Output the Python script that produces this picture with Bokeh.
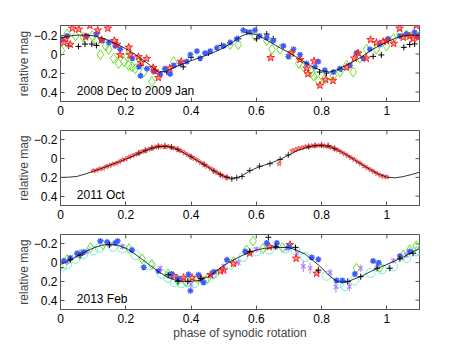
import numpy as np
from bokeh.plotting import figure
from bokeh.layouts import column
from bokeh.models import Range1d, FixedTicker, Label
from bokeh.embed import file_html
from bokeh.resources import INLINE

FONT = "Liberation Sans"
X_RANGE = (0, 1.1)
Y_RANGE = (0.5, -0.3)
X_TICKS = [0, 0.2, 0.4, 0.6, 0.8, 1.0]
X_TICK_LABELS = ["0", "0.2", "0.4", "0.6", "0.8", "1"]
Y_TICKS = [-0.2, 0, 0.2, 0.4]
Y_TICK_LABELS = ["\u22120.2", "0", "0.2", "0.4"]
PANEL_TITLES = ["2008 Dec to 2009 Jan", "2011 Oct", "2013 Feb"]
Y_LABEL = "relative mag"
X_LABEL = "phase of synodic rotation"

# model curve phase grid
curve_x = [0.000, 0.025, 0.050, 0.075, 0.100, 0.125, 0.150, 0.175, 0.200, 0.225,
           0.250, 0.275, 0.300, 0.325, 0.350, 0.375, 0.400, 0.425, 0.450, 0.475,
           0.500, 0.525, 0.550, 0.575, 0.600, 0.625, 0.650, 0.675, 0.700, 0.725,
           0.750, 0.775, 0.800, 0.825, 0.850, 0.875, 0.900, 0.925, 0.950, 0.975,
           1.000, 1.025, 1.050, 1.075, 1.100]

# ---------------- Panel 1: 2008 Dec to 2009 Jan ----------------
p1_curve = [-0.170, -0.188, -0.198, -0.200, -0.192, -0.170, -0.140, -0.100, -0.055, -0.005,
            0.055, 0.120, 0.190, 0.180, 0.140, 0.105, 0.070, 0.040, 0.010, -0.025,
            -0.065, -0.120, -0.180, -0.220, -0.205, -0.160, -0.110, -0.060, -0.015, 0.035,
            0.090, 0.140, 0.175, 0.190, 0.165, 0.120, 0.075, 0.025, -0.035, -0.085,
            -0.125, -0.165, -0.190, -0.200, -0.195]
p1_red_x = [0.010, 0.016, 0.030, 0.036, 0.056, 0.077, 0.090, 0.114, 0.126, 0.145, 0.165, 0.173,
            0.183, 0.209, 0.213, 0.239, 0.247, 0.264, 0.284, 0.290, 0.300, 0.335, 0.370,
            0.644, 0.708, 0.734, 0.754, 0.758, 0.777, 0.795, 0.812, 0.835, 0.877, 0.900,
            0.912, 0.937, 0.950, 0.968, 0.989, 0.999, 1.021, 1.039, 1.050, 1.070, 1.080,
            1.090, 1.096]
p1_red_y = [-0.12, -0.16, -0.10, -0.27, -0.26, -0.18, -0.30, -0.25, -0.15, -0.27, -0.14, -0.10,
            0.01, -0.07, 0.01, 0.03, 0.09, 0.05, 0.145, 0.18, 0.25, 0.15, 0.08,
            0.04, -0.01, 0.06, 0.15, 0.21, 0.075, 0.33, 0.27, 0.28, 0.14, 0.045,
            -0.01, 0.045, -0.15, -0.12, -0.13, -0.14, -0.11, -0.27, -0.175, -0.19, -0.16,
            -0.30, -0.175]
p1_blue_x = [0.000, 0.020, 0.080, 0.110, 0.127, 0.148, 0.168, 0.183, 0.220, 0.240, 0.245, 0.265,
             0.285, 0.306, 0.320, 0.336, 0.347, 0.367, 0.387, 0.398, 0.418, 0.428, 0.443,
             0.459, 0.479, 0.500, 0.520, 0.540, 0.560, 0.580, 0.596, 0.610, 0.632, 0.652,
             0.683, 0.698, 0.714, 0.734, 0.754, 0.780, 0.790, 0.810, 0.836, 0.856, 0.887,
             0.907, 0.928, 0.948, 0.979, 1.004, 1.040, 1.060, 1.085, 1.096]
p1_blue_y = [-0.16, -0.19, -0.19, -0.21, -0.14, -0.12, -0.085, -0.05, 0.045, 0.135, 0.23, 0.155,
             0.18, 0.21, 0.155, 0.21, 0.12, 0.10, 0.08, 0.007, -0.03, 0.045, -0.01,
             -0.03, -0.065, -0.085, -0.12, -0.16, -0.25, -0.23, -0.25, -0.19, -0.175, -0.14,
             -0.085, 0.025, -0.05, 0.007, 0.10, 0.135, 0.08, 0.17, 0.19, 0.155, 0.12,
             -0.01, 0.045, -0.05, -0.10, -0.16, -0.19, -0.21, -0.23, -0.19]
p1_green_x = [0.003, 0.020, 0.046, 0.070, 0.097, 0.112, 0.122, 0.138, 0.148, 0.163, 0.178, 0.194,
              0.204, 0.209, 0.219, 0.229, 0.245, 0.255, 0.280, 0.347,
              0.520, 0.545, 0.596, 0.632, 0.648, 0.673, 0.704, 0.730, 0.744, 0.770, 0.775,
              0.790, 0.810, 0.836, 0.856, 0.877, 0.897, 0.917, 0.938, 0.968, 0.999, 1.020,
              1.040, 1.060, 1.080, 1.100]
p1_green_y = [-0.035, -0.21, -0.19, -0.175, -0.19, -0.14, 0.007, -0.085, -0.05, 0.045, 0.10, 0.08,
              0.025, 0.12, 0.135, 0.155, 0.10, 0.19, 0.29, 0.08,
              -0.10, -0.10, -0.19, -0.14, -0.05, -0.05, 0.007, 0.10, 0.135, 0.19, 0.23,
              0.28, 0.26, 0.23, 0.19, 0.12, 0.19, 0.045, -0.05, -0.05, -0.085, -0.16,
              -0.21, -0.20, -0.19, -0.19]
p1_black_x = [0.025, 0.055, 0.075, 0.096, 0.110, 0.245, 0.290, 0.326, 0.376, 0.400, 0.453, 0.493,
              0.545, 0.571, 0.601, 0.632, 0.652, 0.794, 0.815, 0.860, 0.958, 0.983, 1.052,
              1.070, 1.085]
p1_black_y = [-0.085, -0.08, -0.105, -0.105, -0.09, 0.12, 0.18, 0.19, 0.135, 0.035, -0.01, -0.09,
              -0.16, -0.23, -0.16, -0.21, -0.16, 0.19, 0.20, 0.16, 0.025, 0.01, -0.07,
              -0.10, -0.106]

# ---------------- Panel 2: 2011 Oct ----------------
p2_curve = [0.200, 0.198, 0.190, 0.165, 0.135, 0.105, 0.072, 0.040, 0.005, -0.033,
            -0.070, -0.105, -0.128, -0.132, -0.110, -0.068, -0.020, 0.032, 0.085, 0.140,
            0.188, 0.210, 0.195, 0.140, 0.100, 0.070, 0.040, 0.005, -0.040, -0.085,
            -0.115, -0.135, -0.140, -0.128, -0.092, -0.045, 0.010, 0.065, 0.118, 0.165,
            0.198, 0.205, 0.192, 0.170, 0.145]
p2_red_x = [0.10, 0.11, 0.12, 0.13, 0.14, 0.15, 0.16, 0.17, 0.18, 0.19, 0.20, 0.21, 0.22, 0.23,
            0.24, 0.25, 0.26, 0.27, 0.28, 0.29, 0.30, 0.31, 0.32, 0.33, 0.34, 0.35, 0.36, 0.37,
            0.38, 0.39, 0.40, 0.41, 0.42, 0.43, 0.44, 0.45, 0.46, 0.47, 0.48, 0.49, 0.50, 0.51,
            0.67,
            0.71, 0.72, 0.73, 0.74, 0.75, 0.76, 0.77, 0.78, 0.79, 0.80, 0.81, 0.82, 0.83, 0.84,
            0.85, 0.86, 0.87, 0.88, 0.89, 0.90, 0.91, 0.92, 0.93, 0.94, 0.95, 0.96, 0.97, 0.98,
            0.99, 1.00]
p2_red_y = [0.13, 0.125, 0.11, 0.105, 0.085, 0.075, 0.06, 0.05, 0.035, 0.015, 0.005, -0.015,
            -0.03, -0.045, -0.06, -0.075, -0.085, -0.10, -0.11, -0.12, -0.135, -0.13, -0.125,
            -0.13, -0.12, -0.11, -0.095, -0.08, -0.06, -0.04, -0.02, 0.0, 0.02, 0.045, 0.065,
            0.085, 0.105, 0.13, 0.15, 0.17, 0.19, 0.20,
            0.055,
            -0.085, -0.095, -0.11, -0.115, -0.125, -0.13, -0.135, -0.14, -0.14, -0.145, -0.135,
            -0.13, -0.12, -0.105, -0.09, -0.07, -0.05, -0.03, -0.01, 0.01, 0.035, 0.055, 0.08,
            0.10, 0.12, 0.14, 0.16, 0.18, 0.19, 0.195]
p2_black_x = [0.24, 0.26, 0.28, 0.30, 0.32, 0.34, 0.36, 0.40, 0.44, 0.47, 0.49, 0.51, 0.525,
              0.54, 0.556, 0.58, 0.61, 0.642, 0.673, 0.698, 0.76, 0.78, 0.80, 0.82, 0.84]
p2_black_y = [-0.06, -0.09, -0.115, -0.13, -0.135, -0.125, -0.10, -0.02, 0.06, 0.13, 0.17, 0.20,
              0.216, 0.205, 0.19, 0.126, 0.08, 0.054, 0.008, -0.04, -0.13, -0.14, -0.145, -0.14,
              -0.11]

# ---------------- Panel 3: 2013 Feb ----------------
p3_curve = [0.020, -0.020, -0.065, -0.115, -0.155, -0.185, -0.195, -0.185, -0.155, -0.100,
            -0.035, 0.030, 0.095, 0.150, 0.185, 0.200, 0.200, 0.190, 0.155, 0.095,
            0.030, -0.020, -0.065, -0.105, -0.135, -0.152, -0.160, -0.162, -0.160, -0.130,
            -0.090, -0.020, 0.055, 0.145, 0.205, 0.210, 0.175, 0.140, 0.095, 0.055,
            0.020, -0.020, -0.060, -0.105, -0.150]
p3_cyan_x = [0.005, 0.020, 0.045, 0.070, 0.100, 0.120, 0.160, 0.190, 0.230, 0.270, 0.310, 0.330,
             0.350, 0.370, 0.390, 0.410, 0.440, 0.470, 0.520, 0.560, 0.600, 0.640, 0.690, 0.720,
             0.750, 0.815, 0.855, 0.872, 0.900, 0.950, 0.985, 1.019, 1.060, 1.090, 1.100]
p3_cyan_y = [0.04, 0.02, -0.04, -0.09, -0.13, -0.16, -0.17, -0.15, -0.08, 0.03, 0.12, 0.16,
             0.21, 0.22, 0.21, 0.22, 0.19, 0.12, 0.02, -0.06, -0.12, -0.14, -0.15, -0.13,
             -0.06, 0.14, 0.22, 0.25, 0.19, 0.11, 0.07, 0.04, -0.05, -0.12, -0.13]
p3_green_x = [0.020, 0.060, 0.092, 0.130, 0.210, 0.250, 0.280, 0.330, 0.360, 0.385, 0.420, 0.450,
              0.469, 0.530, 0.570, 0.590, 0.620, 0.680, 0.907, 0.979, 1.050, 1.070, 1.090]
p3_green_y = [-0.03, -0.09, -0.16, -0.19, -0.15, -0.04, 0.02, 0.12, 0.19, 0.20, 0.17, 0.17,
              0.125, -0.01, -0.135, -0.23, -0.15, -0.16, 0.06, 0.05, -0.08, -0.135, -0.18]
p3_violet_x = [0.020, 0.050, 0.080, 0.150, 0.190, 0.306, 0.340, 0.372, 0.400, 0.460, 0.500, 0.545,
               0.600, 0.660, 0.693, 0.724, 0.744, 0.765, 0.826, 0.844, 0.885, 0.920, 0.970,
               1.020, 1.060]
p3_violet_y = [-0.01, -0.08, -0.12, -0.19, -0.17, 0.06, 0.15, 0.185, 0.23, 0.14, 0.04, 0.0,
               -0.14, -0.17, -0.15, -0.10, 0.04, 0.06, 0.107, 0.26, 0.255, 0.06, 0.02,
               -0.02, -0.08]
p3_violet_err = [0.03, 0.03, 0.03, 0.03, 0.03, 0.03, 0.03, 0.04, 0.04, 0.03, 0.03, 0.04,
                 0.03, 0.03, 0.03, 0.04, 0.06, 0.06, 0.04, 0.06, 0.05, 0.04, 0.03,
                 0.03, 0.03]
p3_red_x = [0.347, 0.377, 0.403, 0.430, 0.460, 0.490, 0.500, 0.530, 0.580, 0.640, 0.703, 0.722,
            0.785]
p3_red_y = [0.14, 0.16, 0.16, 0.17, 0.13, 0.09, 0.08, 0.01, -0.10, -0.17, -0.19, -0.045, 0.115]
p3_blue_x = [0.010, 0.030, 0.051, 0.070, 0.122, 0.143, 0.168, 0.175, 0.219, 0.255, 0.300, 0.340,
             0.360, 0.392, 0.398, 0.423, 0.438, 0.470, 0.510, 0.566, 0.632, 0.663, 0.700, 0.770,
             0.790, 0.846, 0.864, 0.902, 0.958, 0.975, 1.040, 1.070]
p3_blue_y = [-0.02, -0.05, -0.10, -0.11, -0.23, -0.22, -0.21, -0.23, -0.135, 0.05, 0.09, 0.12,
             0.17, 0.125, 0.30, 0.13, 0.21, 0.10, -0.03, -0.12, -0.21, -0.21, -0.17, -0.055,
             -0.035, 0.19, 0.19, 0.12, -0.018, 0.0, -0.07, -0.12]
p3_black_x = [0.000, 0.030, 0.060, 0.150, 0.330, 0.360, 0.390, 0.430, 0.580, 0.637, 0.660, 0.720,
              0.790, 0.880, 0.920, 0.970, 1.009, 1.040, 1.080]
p3_black_y = [0.055, -0.03, -0.08, -0.19, 0.13, 0.20, 0.20, 0.17, -0.12, -0.27, -0.17, -0.16,
              0.08, 0.20, 0.15, 0.06, 0.06, -0.04, -0.10]

RED = "#ff2020"
BLUE = "#3a5cff"
GREEN = "#6ee02a"
CYAN = "#70eedc"
VIOLET = "#b97cff"
BLACK = "#000000"
FRAME = "#555555"
TICK_FS = "12px"


def make_panel(height, top, bottom, title, xlabel=None):
    p = figure(width=455, height=height, x_range=Range1d(*X_RANGE), y_range=Range1d(*Y_RANGE),
               output_backend="svg", toolbar_location=None,
               min_border_left=60, min_border_right=36, min_border_top=top, min_border_bottom=bottom)
    p.background_fill_color = "white"
    p.border_fill_color = "white"
    p.outline_line_color = FRAME
    p.grid.visible = False
    xa = p.xaxis[0]
    ya = p.yaxis[0]
    xa.ticker = FixedTicker(ticks=X_TICKS)
    xa.major_label_overrides = {t: s for t, s in zip(X_TICKS, X_TICK_LABELS)}
    ya.ticker = FixedTicker(ticks=Y_TICKS)
    ya.major_label_overrides = {t: s for t, s in zip(Y_TICKS, Y_TICK_LABELS)}
    for ax in (xa, ya):
        ax.major_tick_in = 4
        ax.major_tick_out = 0
        ax.minor_tick_in = 0
        ax.minor_tick_out = 0
        ax.axis_line_color = FRAME
        ax.major_tick_line_color = FRAME
        ax.major_label_text_font = FONT
        ax.major_label_text_font_size = TICK_FS
        ax.major_label_text_color = "black"
        ax.axis_label_text_font = FONT
        ax.axis_label_text_font_size = "12px"
        ax.axis_label_text_font_style = "normal"
    xa.major_label_standoff = 4
    ya.major_label_standoff = 3
    ya.axis_label = Y_LABEL
    ya.axis_label_standoff = 0
    if xlabel:
        xa.axis_label = xlabel
        xa.axis_label_standoff = 0
    # inward tick marks on the right and top edges of the box
    p.scatter([X_RANGE[1]] * len(Y_TICKS), Y_TICKS, marker="dash", size=8, angle=0,
              line_color=FRAME, line_width=1)
    p.scatter(X_TICKS, [Y_RANGE[1]] * len(X_TICKS), marker="dash", size=8, angle=np.pi / 2,
              line_color=FRAME, line_width=1)
    p.add_layout(Label(x=0.05, y=0.385, text=title, text_baseline="middle",
                       text_font=FONT, text_font_size="12px", text_color="black"))
    return p


def plus(p, x, y, color=BLACK, size=6, alpha=1.0):
    p.scatter(x, y, marker="cross", size=size, line_color=color, line_width=1, line_alpha=alpha)


def star(p, x, y, size=8, fill_alpha=0.45, line_alpha=1.0):
    p.scatter(x, y, marker="star", size=size, line_color=RED, fill_color=RED,
              fill_alpha=fill_alpha, line_width=1, line_alpha=line_alpha)


def asterisk(p, x, y):
    p.scatter(x, y, marker="asterisk", size=6, line_color=BLUE, line_width=1.4)


def diamond(p, x, y):
    p.scatter(x, y, marker="diamond", size=10, line_color=GREEN, fill_color=None, line_width=1)


# Panel 1
p1 = make_panel(120, 25, 19, PANEL_TITLES[0])
diamond(p1, p1_green_x, p1_green_y)
plus(p1, p1_black_x, p1_black_y)
asterisk(p1, p1_blue_x, p1_blue_y)
star(p1, p1_red_x, p1_red_y)
p1.line(curve_x, p1_curve, line_color=BLACK, line_width=0.8)

# Panel 2
p2 = make_panel(104, 10, 19, PANEL_TITLES[1])
plus(p2, p2_black_x, p2_black_y, size=6, alpha=0.8)
star(p2, p2_red_x, p2_red_y, size=5, fill_alpha=0.3, line_alpha=0.65)
p2.line(curve_x, p2_curve, line_color=BLACK, line_width=0.8)

# Panel 3
p3 = make_panel(119, 10, 34, PANEL_TITLES[2], xlabel=X_LABEL)
p3.scatter(p3_cyan_x, p3_cyan_y, marker="circle", size=9, line_color=CYAN, fill_color=None, line_width=1)
diamond(p3, p3_green_x, p3_green_y)
vx = np.array(p3_violet_x)
vy = np.array(p3_violet_y)
ve = np.array(p3_violet_err)
p3.segment(vx, vy - ve, vx, vy + ve, line_color=VIOLET, line_width=1)
p3.scatter(vx, vy, marker="x", size=6, line_color=VIOLET, line_width=1.2)
star(p3, p3_red_x, p3_red_y)
asterisk(p3, p3_blue_x, p3_blue_y)
plus(p3, p3_black_x, p3_black_y)
p3.line(curve_x, p3_curve, line_color=BLACK, line_width=0.8)

layout = column(p1, p2, p3, spacing=0)
open("out.html", "w").write(file_html(layout, INLINE))
